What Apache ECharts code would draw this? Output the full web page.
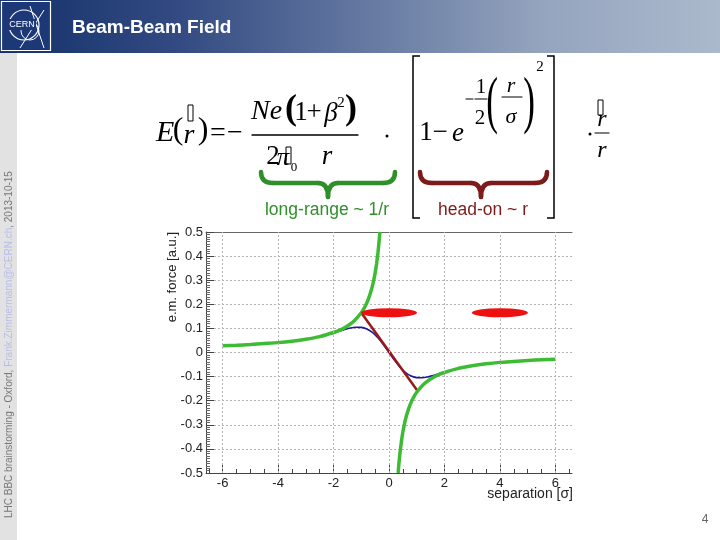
<!DOCTYPE html>
<html><head><meta charset="utf-8">
<script src="https://cdn.jsdelivr.net/npm/echarts@6/dist/echarts.min.js"></script>
<style>html,body{margin:0;padding:0;background:#fff}#c{width:720px;height:540px}</style>
</head><body><div id="c"></div>
<script>
// ---- data ----
const xLabelTicks = [-6, -4, -2, 0, 2, 4, 6];
const xMinorTicks = [-6.5,-6,-5.5,-5,-4.5,-4,-3.5,-3,-2.5,-2,-1.5,-1,-0.5,0,0.5,1,1.5,2,2.5,3,3.5,4,4.5,5,5.5,6,6.5];
const greenLeftX = [-6,-5.5,-5,-4.5,-4,-3.5,-3,-2.5,-2,-1.75,-1.5,-1.25,-1,-0.9,-0.8,-0.7,-0.6,-0.55,-0.5,-0.45,-0.4,-0.37,-0.35,-0.33];
const greenLeftY = [0.0275,0.030,0.033,0.037,0.041,0.047,0.055,0.066,0.083,0.094,0.110,0.132,0.165,0.183,0.206,0.236,0.275,0.300,0.330,0.367,0.413,0.446,0.471,0.500];
const greenRightX = [0.33,0.35,0.37,0.4,0.45,0.5,0.55,0.6,0.7,0.8,0.9,1,1.25,1.5,1.75,2,2.5,3,3.5,4,4.5,5,5.5,6];
const greenRightY = [-0.500,-0.471,-0.446,-0.413,-0.367,-0.330,-0.300,-0.275,-0.236,-0.206,-0.183,-0.165,-0.132,-0.110,-0.094,-0.083,-0.066,-0.055,-0.047,-0.041,-0.037,-0.033,-0.030,-0.0275];
const blueX = [-2.4,-2.2,-2,-1.8,-1.6,-1.4,-1.2,-1,-0.8,-0.6,-0.4,-0.2,0,0.2,0.4,0.6,0.8,1,1.2,1.4,1.6,1.8,2,2.2,2.4];
const blueY = [0.0685,0.0744,0.0810,0.0881,0.0952,0.1013,0.1049,0.1043,0.0975,0.0831,0.0610,0.0323,0,-0.0323,-0.0610,-0.0831,-0.0975,-0.1043,-0.1049,-0.1013,-0.0952,-0.0881,-0.0810,-0.0744,-0.0685];
const headOnX = [-1.0, 1.02];
const headOnY = [0.165, -0.158];
const beamX = [0, 4];
const beamY = [0.165, 0.165];

const zip = (a, b) => a.map((v, i) => [v, b[i]]);

const SERIF = "'Liberation Serif','Times New Roman',serif";
const SANS = "'Liberation Sans',Arial,Helvetica,sans-serif";

function T(x, y, text, size, o) {
  o = o || {};
  const st = {
    text: text,
    font: (o.style || 'normal') + ' ' + (o.weight || 'normal') + ' ' + size + 'px ' + (o.family || SERIF),
    fill: o.fill || '#000',
    align: o.align || 'center',
    verticalAlign: o.va || 'middle'
  };
  if (o.rich) st.rich = o.rich;
  return { type: 'text', x: x, y: y, z: 10, scaleX: o.sx || 1, scaleY: o.sy || 1, rotation: o.rot || 0, style: st };
}
function L(x1, y1, x2, y2, w, c) {
  return { type: 'line', z: 10, shape: { x1: x1, y1: y1, x2: x2, y2: y2 }, style: { stroke: c || '#000', lineWidth: w || 1.2, lineCap: 'round' } };
}
function Box(x, y, w, h) {
  return { type: 'rect', z: 10, shape: { x: x, y: y, width: w, height: h }, style: { fill: null, stroke: '#000', lineWidth: 1 } };
}
function PL(pts, w, c) {
  return { type: 'polyline', z: 10, shape: { points: pts }, style: { fill: null, stroke: c || '#000', lineWidth: w || 1.5 } };
}
function Q(x1, y1, cx, cy, x2, y2, w, c) {
  return { type: 'bezierCurve', z: 10, shape: { x1: x1, y1: y1, x2: x2, y2: y2, cpx1: cx, cpy1: cy },
           style: { fill: null, stroke: c, lineWidth: w, lineCap: 'round' } };
}
function Brace(xl, xc, xr, yTop, yMid, yTip, w, c) {
  const r = 12, rc = 10;
  return [
    Q(xl, yTop, xl, yMid, xl + r, yMid, w, c),
    L(xl + r, yMid, xc - rc, yMid, w, c),
    Q(xc - rc, yMid, xc, yMid, xc, yTip, w, c),
    Q(xc, yTip, xc, yMid, xc + rc, yMid, w, c),
    L(xc + rc, yMid, xr - r, yMid, w, c),
    Q(xr - r, yMid, xr, yMid, xr, yTop, w, c)
  ];
}

const graphics = [
  // header band
  { type: 'rect', z: 1, shape: { x: 0, y: 0, width: 720, height: 53 },
    style: { fill: new echarts.graphic.LinearGradient(0, 0, 1, 0, [
      { offset: 0, color: '#14306a' }, { offset: 0.25, color: '#334b82' },
      { offset: 0.5, color: '#6377a0' }, { offset: 0.75, color: '#94a4be' }, { offset: 1, color: '#abb9cc' }]) } },
  // CERN logo
  { type: 'rect', z: 2, shape: { x: 0, y: 0, width: 52, height: 52 }, style: { fill: '#1c3877' } },
  { type: 'rect', z: 3, shape: { x: 1.5, y: 1.5, width: 49, height: 49 }, style: { fill: null, stroke: '#fff', lineWidth: 1.2 } },
  { type: 'circle', z: 3, shape: { cx: 24, cy: 25, r: 15 }, style: { fill: null, stroke: '#fff', lineWidth: 1.2 } },
  { type: 'circle', z: 3, shape: { cx: 30, cy: 31, r: 9 }, style: { fill: null, stroke: '#fff', lineWidth: 1 } },
  { type: 'line', z: 3, shape: { x1: 30, y1: 6, x2: 44, y2: 48 }, style: { stroke: '#fff', lineWidth: 1 } },
  { type: 'line', z: 3, shape: { x1: 44, y1: 10, x2: 20, y2: 48 }, style: { stroke: '#fff', lineWidth: 1 } },
  { type: 'rect', z: 4, shape: { x: 8, y: 19, width: 28, height: 11 }, style: { fill: '#1c3877' } },
  T(22, 24.5, 'CERN', 9, { family: SANS, fill: '#fff' }),
  // title
  T(72, 28, 'Beam-Beam Field', 19, { family: SANS, weight: 'bold', fill: '#fff', align: 'left' }),
  // left strip
  { type: 'rect', z: 1, shape: { x: 0, y: 53, width: 17, height: 487 }, style: { fill: '#e2e2e2' } },
  T(9, 518, '{a|LHC BBC brainstorming - Oxford, }{b|Frank.Zimmermann@CERN.ch}{a|, 2013-10-15}', 10,
    { family: SANS, rot: Math.PI / 2, align: 'left', fill: '#777',
      rich: { a: { fill: '#777', fontSize: 10, fontFamily: 'Liberation Sans' }, b: { fill: '#b8bde8', fontSize: 10, fontFamily: 'Liberation Sans' } } }),
  // page number
  T(705, 520, '4', 12, { family: SANS, fill: '#666' }),

  // ---- formula ----
  T(156, 133, 'E', 30, { style: 'italic', align: 'left' }),
  T(178, 131, '(', 32, {}),
  T(189, 136, 'r', 28, { style: 'italic' }),
  Box(188, 105, 5, 16),
  T(203, 131, ')', 32, {}),
  T(218, 134, '=', 28, {}),
  T(235, 134, '\u2212', 28, {}),
  T(251, 112, 'Ne', 28, { style: 'italic', align: 'left' }),
  T(291, 110, '(', 36, { weight: 'bold' }),
  T(301, 113, '1', 27, {}),
  T(314, 113, '+', 27, {}),
  T(331, 114, '\u03b2', 27, { style: 'italic' }),
  T(341, 103, '2', 15, {}),
  T(351, 110, ')', 36, { weight: 'bold' }),
  L(252, 135, 358, 135, 1.3),
  T(273, 157, '2', 27, {}),
  T(283, 158, '\u03c0', 25, { style: 'italic' }),
  Box(286, 147, 5, 17),
  T(294, 168, '0', 13, {}),
  T(327, 157, 'r', 27, { style: 'italic' }),
  { type: 'circle', z: 10, shape: { cx: 387, cy: 136, r: 1.5 }, style: { fill: '#000' } },

  PL([[420, 56], [413, 56], [413, 218], [420, 218]], 1.5),
  PL([[547, 56], [554, 56], [554, 218], [547, 218]], 1.5),
  T(426, 133, '1', 27, {}),
  T(440, 133, '\u2212', 27, {}),
  T(458, 134, 'e', 27, { style: 'italic' }),
  L(466, 99, 473, 99, 1.2),
  L(475, 99, 487, 99, 1.1),
  T(481, 87, '1', 21, {}),
  T(480, 118, '2', 21, {}),
  T(492, 104, '(', 64, { sx: 0.55 }),
  L(502, 97, 522, 97, 1.1),
  T(511, 86, 'r', 22, { style: 'italic' }),
  T(511, 117, '\u03c3', 22, { style: 'italic' }),
  T(529, 104, ')', 64, { sx: 0.55 }),
  T(540, 67, '2', 15, {}),
  { type: 'circle', z: 10, shape: { cx: 590, cy: 134, r: 1.5 }, style: { fill: '#000' } },
  Box(598, 100, 5, 15),
  T(602, 120, 'r', 24, { style: 'italic' }),
  L(595, 133, 609, 133, 1.1),
  T(602, 151, 'r', 24, { style: 'italic' }),

  // labels under braces
  T(327, 210, 'long-range ~ 1/r', 17.5, { family: SANS, fill: '#2f8f2a' }),
  T(483, 210, 'head-on ~ r', 17.5, { family: SANS, fill: '#7d1a1a' }),

  // axis titles
  T(172, 232, 'e.m. force [a.u.]', 13, { family: SANS, rot: Math.PI / 2, align: 'right', fill: '#222' }),
  T(573, 494, 'separation [\u03c3]', 14, { family: SANS, align: 'right', fill: '#222' })
].concat(
  Brace(261, 328, 395, 172, 183, 197, 4.5, '#2f8f2a'),
  Brace(420, 481, 547, 172, 183, 197, 4.5, '#7d1a1a')
);

const chart = echarts.init(document.getElementById('c'), null, { renderer: 'canvas' });
const dotted = { color: '#b4b4b4', width: 1, type: [2, 2] };
chart.setOption({
  backgroundColor: '#fff',
  animation: false,
  grid: { left: 206, right: 148, top: 232, bottom: 67, containLabel: false },
  xAxis: [
    { type: 'value', min: -6.6, max: 6.6, position: 'bottom',
      axisLine: { show: true, onZero: false, lineStyle: { color: '#444', width: 1 } },
      axisTick: { show: true, inside: true, length: 4, customValues: xMinorTicks, lineStyle: { color: '#444' } },
      axisLabel: { show: true, customValues: xLabelTicks, margin: 4, fontSize: 13, color: '#222', fontFamily: 'Liberation Sans' },
      splitLine: { show: false } },
    { type: 'value', min: -6.6, max: 6.6, position: 'bottom',
      axisLine: { show: false, onZero: false },
      axisTick: { show: true, inside: true, length: 8, customValues: xLabelTicks, lineStyle: { color: '#444' } },
      axisLabel: { show: false },
      splitLine: { show: false } },
    { type: 'value', min: -6.6, max: 6.6, position: 'top',
      axisLine: { show: true, onZero: false, lineStyle: { color: '#666', width: 1 } },
      axisTick: { show: false }, axisLabel: { show: false }, splitLine: { show: false } }
  ],
  yAxis: [
    { type: 'value', min: -0.5, max: 0.5, interval: 0.1, position: 'left',
      axisLine: { show: true, onZero: false, lineStyle: { color: '#444', width: 1 } },
      axisTick: { show: true, inside: true, length: 8, lineStyle: { color: '#444' } },
      minorTick: { show: true, splitNumber: 10, length: 4, lineStyle: { color: '#666' } },
      axisLabel: { margin: 3, fontSize: 13, color: '#222', fontFamily: 'Liberation Sans' },
      splitLine: { show: true, lineStyle: dotted } }
  ],
  series: [
    { type: 'scatter', name: 'xgrid', data: [], z: 1, silent: true,
      markLine: { silent: true, symbol: ['none', 'none'], animation: false,
        label: { show: false }, lineStyle: dotted,
        emphasis: { disabled: true },
        data: xLabelTicks.map(v => ({ xAxis: v })) } },
    { type: 'line', name: 'full', data: zip(blueX, blueY), smooth: 0.3, showSymbol: false, z: 2,
      lineStyle: { color: '#1a1a9a', width: 1.6 } },
    { type: 'line', name: 'head-on', data: zip(headOnX, headOnY), showSymbol: false, z: 3,
      lineStyle: { color: '#9b1818', width: 2.5 } },
    { type: 'line', name: 'long-range-left', data: zip(greenLeftX, greenLeftY), smooth: 0.2, showSymbol: false, z: 4,
      lineStyle: { color: '#3dbb35', width: 3.5 } },
    { type: 'line', name: 'long-range-right', data: zip(greenRightX, greenRightY), smooth: 0.2, showSymbol: false, z: 4,
      lineStyle: { color: '#3dbb35', width: 3.5 } },
    { type: 'scatter', name: 'beams', data: zip(beamX, beamY), symbol: 'circle', symbolSize: [56, 9], z: 5,
      itemStyle: { color: '#ee1111', opacity: 1 } }
  ],
  graphic: graphics
});
</script>
</body></html>
